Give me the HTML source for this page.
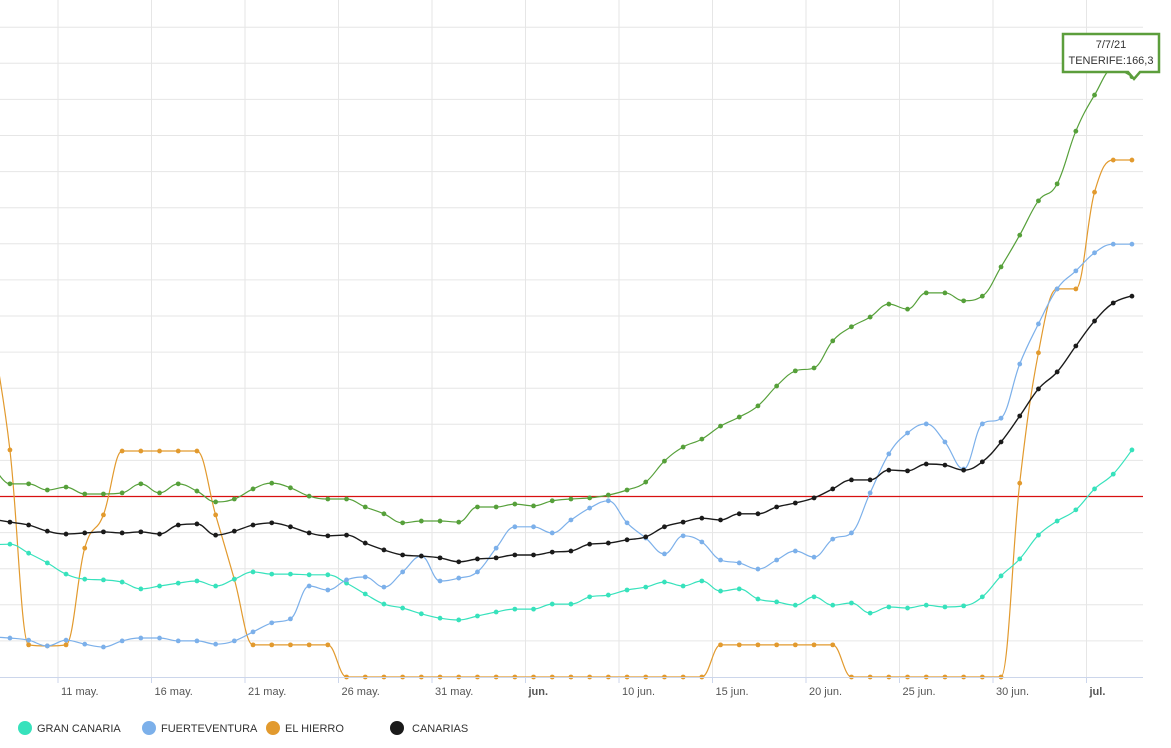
<!DOCTYPE html>
<html><head><meta charset="utf-8">
<style>
html,body{margin:0;padding:0;background:#fff;}
svg{display:block;font-family:"Liberation Sans",sans-serif;}
</style></head>
<body>
<svg id="chart" width="1171" height="748" viewBox="0 0 1171 748" xmlns="http://www.w3.org/2000/svg">
<g id="grid"></g>
<g id="series"></g>
<g id="axis"></g>
<g id="tooltip">
  <path d="M1063,34 H1159 V72 H1140 L1134,79 L1128,72 H1063 Z" fill="#fff" stroke="#5c9e3c" stroke-width="2.5"/>
  <text x="1111" y="48" text-anchor="middle" font-size="11" fill="#333">7/7/21</text>
  <text x="1111" y="64" text-anchor="middle" font-size="11" fill="#333">TENERIFE:166,3</text>
</g>
<g id="legend">
  <g><circle cx="25" cy="728" r="7" fill="#37e2bc"/><text x="37" y="732" font-size="11" fill="#333">GRAN CANARIA</text></g>
  <g><circle cx="149" cy="728" r="7" fill="#7cb0ea"/><text x="161" y="732" font-size="11" fill="#333">FUERTEVENTURA</text></g>
  <g><circle cx="273" cy="728" r="7" fill="#e29a2e"/><text x="285" y="732" font-size="11" fill="#333">EL HIERRO</text></g>
  <g><circle cx="397" cy="728" r="7" fill="#1a1a1a"/><text x="412" y="732" font-size="11" fill="#333">CANARIAS</text></g>
</g>
</svg>
<script>
// days offset from 8 May (index 0 = 7 May)
const tenerife = [59.6,53.5,53.5,51.8,52.6,50.7,50.7,51.0,53.5,51.0,53.5,51.5,48.5,49.3,52.1,53.7,52.4,50.1,49.3,49.3,47.1,45.2,42.7,43.2,43.2,42.9,47.1,47.1,47.9,47.4,48.8,49.3,49.6,50.4,51.8,54.0,59.8,63.7,65.9,69.5,72.0,75.1,80.6,84.8,85.6,93.1,97.0,99.7,103.3,101.9,106.4,106.4,104.2,105.5,113.6,122.4,131.9,136.6,151.2,161.2,168.5,166.3];
const canarias = [43.8,42.9,42.1,40.4,39.6,39.9,40.2,39.9,40.2,39.6,42.1,42.4,39.3,40.4,42.1,42.7,41.6,39.9,39.1,39.3,37.1,35.2,33.8,33.5,33.0,31.9,32.7,33.0,33.8,33.8,34.6,34.9,36.8,37.1,38.0,38.8,41.6,42.9,44.0,43.5,45.2,45.2,47.1,48.2,49.6,52.1,54.6,54.6,57.3,57.1,59.0,58.7,57.3,59.6,65.1,72.3,79.8,84.5,91.7,98.6,103.6,105.5];
const granCanaria = [36.6,36.8,34.3,31.6,28.5,27.1,26.9,26.3,24.4,25.2,26.0,26.6,25.2,27.1,29.1,28.5,28.5,28.3,28.3,26.0,23.0,20.2,19.1,17.5,16.3,15.8,16.9,18.0,18.8,18.8,20.2,20.2,22.2,22.7,24.1,24.9,26.3,25.2,26.6,23.8,24.4,21.6,20.8,19.9,22.2,19.9,20.5,17.7,19.4,19.1,19.9,19.4,19.7,22.2,28.0,32.7,39.3,43.2,46.3,52.1,56.2,62.9];
const fuerteventura = [11.1,10.8,10.2,8.6,10.2,9.1,8.3,10.0,10.8,10.8,10.0,10.0,9.1,10.0,12.5,15.0,16.1,25.2,24.1,26.9,27.7,24.9,29.1,33.5,26.6,27.4,29.1,35.7,41.6,41.6,39.9,43.5,46.8,48.8,42.7,38.5,34.1,39.1,37.4,32.4,31.6,29.9,32.4,34.9,33.2,38.2,39.9,51.0,61.8,67.6,70.1,65.1,57.6,70.1,71.7,86.7,97.8,107.5,112.5,117.5,119.9,119.9];
const elHierro = [96.1,62.9,8.9,8.6,8.9,35.7,44.9,62.6,62.6,62.6,62.6,62.6,44.9,27.1,8.9,8.9,8.9,8.9,8.9,0,0,0,0,0,0,0,0,0,0,0,0,0,0,0,0,0,0,0,0,8.9,8.9,8.9,8.9,8.9,8.9,8.9,0,0,0,0,0,0,0,0,0,53.7,89.8,107.5,107.5,134.3,143.2,143.2];
const tickDays = [4,9,14,19,24,29,34,39,44,49,54,59];
const tickLabels = ["11 may.","16 may.","21 may.","26 may.","31 may.","jun.","10 jun.","15 jun.","20 jun.","25 jun.","30 jun.","jul."];
const tickBold = [false,false,false,false,false,true,false,false,false,false,false,true];
const threshold = 50;

const NS="http://www.w3.org/2000/svg";
const PX_PER_DAY=18.7, X0=58-4*PX_PER_DAY, POINT_OFF=0.43;
const Y0=677, PX_PER_UNIT=3.61, RIGHT=1143;
function xScale(d){return X0+d*PX_PER_DAY;}
function yScale(v){return Y0-v*PX_PER_UNIT;}
function mk(tag,attrs,parent){const e=document.createElementNS(NS,tag);for(const k in attrs)e.setAttribute(k,attrs[k]);parent.appendChild(e);return e;}

const grid=document.getElementById('grid');
for(let n=1;n<=18;n++){
  const l=mk('line',{x1:0,x2:RIGHT,y1:yScale(n*10),y2:yScale(n*10),stroke:'#e6e6e6','stroke-width':1},grid);
  
  
}
const axis=document.getElementById('axis');
tickDays.forEach((d,i)=>{
  const x=xScale(d);
  const g=mk('line',{x1:x,x2:x,y1:0,y2:Y0,stroke:'#e6e6e6','stroke-width':1},grid);
  
  
  const t=mk('line',{x1:x,x2:x,y1:Y0,y2:Y0+6,stroke:'#ccd6eb','stroke-width':1},axis);
  
  
  const tx=mk('text',{x:x+3,y:695,'font-size':11,fill:'#555','font-weight':tickBold[i]?'bold':'normal'},axis);
  tx.textContent=tickLabels[i];
  
  
});
const al=mk('line',{x1:0,x2:RIGHT,y1:Y0+0.5,y2:Y0+0.5,stroke:'#ccd6eb','stroke-width':1},axis);



function splinePath(pts){
  const s=1.5,den=2.5;let d='M'+pts[0][0]+','+pts[0][1];
  const ctrl=pts.map((p,i)=>{
    if(i===0||i===pts.length-1)return null;
    const L=pts[i-1],R=pts[i+1];
    let lx=(s*p[0]+L[0])/den,ly=(s*p[1]+L[1])/den,rx=(s*p[0]+R[0])/den,ry=(s*p[1]+R[1])/den;
    const c=((ry-ly)*(rx-p[0]))/(rx-lx)+p[1]-ry;ly+=c;ry+=c;
    if(ly>L[1]&&ly>p[1]){ly=Math.max(L[1],p[1]);ry=2*p[1]-ly;}else if(ly<L[1]&&ly<p[1]){ly=Math.min(L[1],p[1]);ry=2*p[1]-ly;}
    if(ry>R[1]&&ry>p[1]){ry=Math.max(R[1],p[1]);ly=2*p[1]-ry;}else if(ry<R[1]&&ry<p[1]){ry=Math.min(R[1],p[1]);ly=2*p[1]-ry;}
    return [lx,ly,rx,ry];
  });
  for(let i=1;i<pts.length;i++){
    const a=ctrl[i-1]?[ctrl[i-1][2],ctrl[i-1][3]]:pts[i-1];
    const b=ctrl[i]?[ctrl[i][0],ctrl[i][1]]:pts[i];
    d+=' C'+a[0].toFixed(1)+','+a[1].toFixed(1)+' '+b[0].toFixed(1)+','+b[1].toFixed(1)+' '+pts[i][0].toFixed(1)+','+pts[i][1].toFixed(1);
  }
  return d;
}
const seriesLayer=document.getElementById('series');
// threshold line
const red=mk('line',{x1:0,x2:RIGHT,y1:yScale(threshold),y2:yScale(threshold),stroke:'#d81010','stroke-width':1.2},seriesLayer);



function drawSeries(vals,color,width,name){
  const g=mk('g',{},seriesLayer);
  
  
  const pts=vals.map((v,i)=>[xScale(i+POINT_OFF),yScale(v)]);
  const p=mk('path',{d:splinePath(pts),fill:'none',stroke:color,'stroke-width':width},g);
  
  
  pts.forEach(q=>{
    const c=mk('circle',{cx:q[0],cy:q[1],r:2.4,fill:color},g);
    
    
  });
}
drawSeries(elHierro,'#e29a2e',1.2,'el-hierro-series');
drawSeries(granCanaria,'#37e2bc',1.2,'gran-canaria-series');
drawSeries(fuerteventura,'#7cb0ea',1.2,'fuerteventura-series');
drawSeries(canarias,'#1a1a1a',1.4,'canarias-series');
drawSeries(tenerife,'#56a03a',1.2,'tenerife-series');
document.getElementById('chart').appendChild(document.getElementById('tooltip'));
</script>
</body></html>
